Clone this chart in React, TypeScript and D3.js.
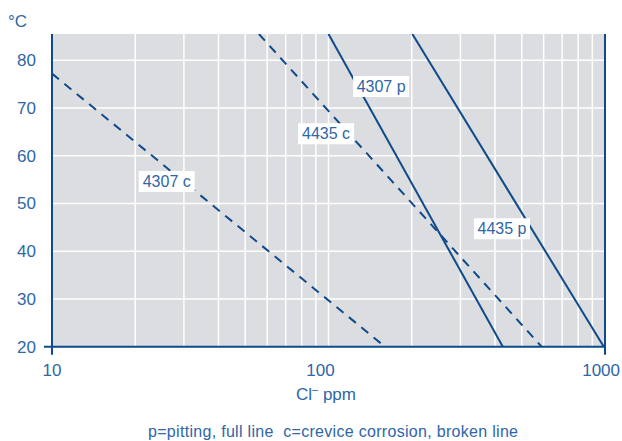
import React from "react";
import * as d3 from "d3";

// chloride (ppm) vs temperature (°C) end points
const pit4307 = [[100, 85.5], [427, 20]];
const pit4435 = [[201, 85.5], [990, 20]];
const crev4307 = [[10, 77.2], [160, 20]];
const crev4435 = [[56, 85.5], [590, 20]];

const series = [
  { name: "4307 p", pts: pit4307, dashed: false, label: [155, 74.5] },
  { name: "4435 p", pts: pit4435, dashed: false, label: [424, 44.7] },
  { name: "4307 c", pts: crev4307, dashed: true, label: [26, 54.6] },
  { name: "4435 c", pts: crev4435, dashed: true, label: [98, 64.6] },
];

const xTicks = [10, 100, 1000];
const yTicks = [20, 30, 40, 50, 60, 70, 80];
const xGrid = [20, 30, 40, 50, 60, 70, 80, 90, 100, 200, 300, 400, 500, 600, 700, 800, 900];
const yGrid = [30, 40, 50, 60, 70, 80];

const W = 622, H = 441;
const m = { left: 52, right: 605, top: 34, bottom: 346.7 };
const blue = "#0f4a8a";
const txt = "#2f66a6";
const font = "'Liberation Sans', Arial, sans-serif";

export default function App() {
  const x = d3.scaleLog().domain([10, 1000]).range([m.left, m.right]);
  const y = d3.scaleLinear().domain([20, 85.5]).range([m.bottom, m.top]);
  const line = d3.line<number[]>().x(d => x(d[0])).y(d => y(d[1]));
  // keep the tick labels inside the page, like the original
  const tickX = (v: number) => (v === 1000 ? W - 2 : x(v) - (v === 100 ? 8 : 0));
  const tickAnchor = (v: number) => (v === 1000 ? "end" : "middle");

  return (
    <div style={{ position: "absolute", left: 0, top: 0 }}>
      <svg width={W} height={H} style={{ display: "block", fontFamily: font }}>
        <defs>
          <clipPath id="plot">
            <rect x={m.left} y={m.top} width={m.right - m.left} height={m.bottom - m.top} />
          </clipPath>
        </defs>
        <rect x={m.left} y={m.top} width={m.right - m.left} height={m.bottom - m.top} fill="#dcdde0" />
        {xGrid.map(v => (
          <line key={"gx" + v} x1={x(v)} x2={x(v)} y1={m.top} y2={m.bottom} stroke="#fff" strokeWidth={1.5} />
        ))}
        {yGrid.map(v => (
          <line key={"gy" + v} x1={m.left} x2={m.right} y1={y(v)} y2={y(v)} stroke="#fff" strokeWidth={1.5} />
        ))}
        <g clipPath="url(#plot)">
          {series.map(s => (
            <path key={s.name} d={line(s.pts) || ""} fill="none" stroke={blue} strokeWidth={2}
              strokeDasharray={s.dashed ? "9,7" : undefined} />
          ))}
        </g>
        {series.map(s => {
          const cx = x(s.label[0]), cy = y(s.label[1]);
          return (
            <g key={"l" + s.name}>
              <rect x={cx - 28} y={cy - 10.5} width={56} height={21} fill="#fff" />
              <text x={cx} y={cy + 5.5} textAnchor="middle" fontSize={16} fill={txt}>{s.name}</text>
            </g>
          );
        })}
        {/* axes */}
        <line x1={m.left} x2={m.left} y1={m.top} y2={m.bottom + 8} stroke={blue} strokeWidth={2} />
        <line x1={m.right} x2={m.right} y1={m.top} y2={m.bottom + 8} stroke={blue} strokeWidth={2} />
        <line x1={m.left - 8} x2={m.right} y1={m.bottom} y2={m.bottom} stroke={blue} strokeWidth={2} />
        {yTicks.map(v => (
          <text key={"ty" + v} x={36} y={y(v) + 6} textAnchor="end" fontSize={17} fill={txt}>{v}</text>
        ))}
        {xTicks.map(v => (
          <text key={"tx" + v} x={tickX(v)} y={376} textAnchor={tickAnchor(v)} fontSize={17} fill={txt}>{v}</text>
        ))}
        <text x={8} y={27} fontSize={17} fill={txt}>°C</text>
        <text x={296} y={400} fontSize={17} fill={txt}>
          Cl<tspan dy={-7} fontSize={11}>–</tspan><tspan dy={7}> ppm</tspan>
        </text>
        <text x={148} y={437} fontSize={16} fill={txt} textLength={370} lengthAdjust="spacing"
          style={{ whiteSpace: "pre" }}>
          {"p=pitting, full line  c=crevice corrosion, broken line"}
        </text>
      </svg>
    </div>
  );
}
